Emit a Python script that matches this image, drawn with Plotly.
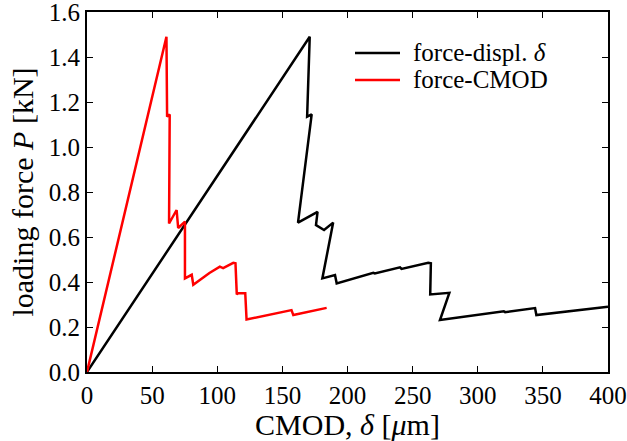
import plotly.graph_objects as go

# force vs displacement delta (um) -> load P (kN)
disp_x = [0, 171, 169, 172.5, 162, 177, 175.8, 182, 189, 180.7, 190.4, 191.7, 219.8, 221, 240.3,
          241.5, 262, 264, 263.5, 278.2, 271, 320, 321, 344, 345, 400]
disp_y = [0, 1.49, 1.135, 1.145, 0.664, 0.712, 0.653, 0.631, 0.664, 0.416, 0.431, 0.394, 0.441, 0.438,
          0.465, 0.458, 0.485, 0.483, 0.345, 0.352, 0.231, 0.27, 0.266, 0.284, 0.253, 0.29]

# force vs CMOD
cmod_x = [0, 61, 61.5, 63.5, 63, 68.8, 70, 72.6, 75.2, 75.2, 80.4, 81.6, 94, 102, 104.5, 112.3,
          114, 115, 116, 121.5, 122.5, 157, 158.4, 184]
cmod_y = [0, 1.49, 1.135, 1.145, 0.66, 0.72, 0.64, 0.653, 0.668, 0.416, 0.432, 0.388, 0.44, 0.468,
          0.462, 0.485, 0.483, 0.345, 0.35, 0.35, 0.233, 0.275, 0.253, 0.285]

x_ticks = [0, 50, 100, 150, 200, 250, 300, 350, 400]
y_ticks = [0.0, 0.2, 0.4, 0.6, 0.8, 1.0, 1.2, 1.4, 1.6]

series_names = ["force-displ. <i>δ</i>", "force-CMOD"]
series_colors = ["black", "#ff0000"]

FONT = "Liberation Serif"

fig = go.Figure()
fig.add_trace(go.Scatter(x=disp_x, y=disp_y, mode="lines", name=series_names[0],
                         line=dict(color=series_colors[0], width=2.5)))
fig.add_trace(go.Scatter(x=cmod_x, y=cmod_y, mode="lines", name=series_names[1],
                         line=dict(color=series_colors[1], width=2.5)))

axis_common = dict(showgrid=False, zeroline=False, showline=True, linecolor="black", linewidth=2,
                   mirror="ticks", ticks="inside", ticklen=6, tickwidth=1, tickcolor="black",
                   automargin=False, ticklabeloverflow="allow",
                   tickfont=dict(family=FONT, size=25, color="black"))

# plot area in pixels: left 87, right 608, top 12, bottom 372
L, R, T, B = 87, 608, 12, 372
def px(xp):
    return (xp - L) / (R - L)
def py(yp):
    return (B - yp) / (B - T)

# legend drawn as lines + text
shapes = []
annotations = []
legend_rows = [53, 80]
for name, color, yrow in zip(series_names, series_colors, legend_rows):
    shapes.append(dict(type="line", xref="paper", yref="paper", x0=px(355), x1=px(400),
                       y0=py(yrow), y1=py(yrow), line=dict(color=color, width=2.5)))
    annotations.append(dict(xref="paper", yref="paper", x=px(411), y=py(yrow - 1), text=name,
                            showarrow=False, xanchor="left", yanchor="middle",
                            font=dict(family=FONT, size=25, color="black")))

fig.update_layout(
    width=627, height=441,
    margin=dict(l=L, r=627 - R, t=T, b=441 - B),
    paper_bgcolor="white", plot_bgcolor="white",
    font=dict(family=FONT, size=25, color="black"),
    showlegend=False,
    shapes=shapes, annotations=annotations,
    xaxis=dict(range=[0, 400], tickvals=x_ticks, ticktext=[str(v) for v in x_ticks],
               title=dict(text="CMOD, <i>δ</i> [<i>μ</i>m]", standoff=4), **axis_common),
    yaxis=dict(range=[0, 1.6], tickvals=y_ticks, ticktext=[f"{v:.1f}" for v in y_ticks],
               title=dict(text="loading force <i>P</i> [kN]", standoff=6), **axis_common),
)

fig.write_html("out.html")
